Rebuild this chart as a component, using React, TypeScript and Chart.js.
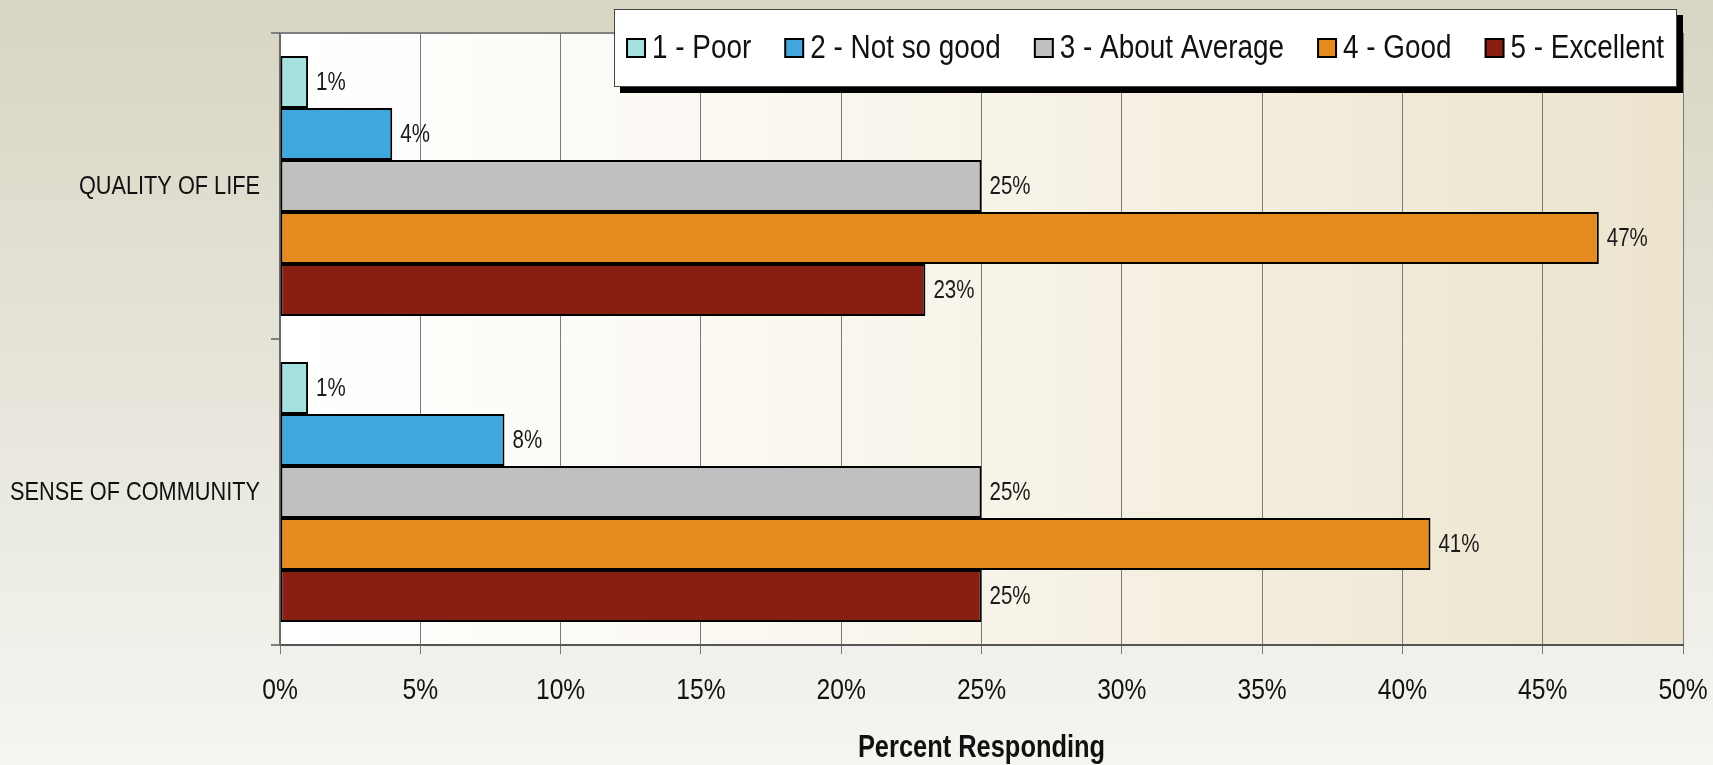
import React, { useEffect, useRef } from "react";
import { Chart, registerables } from "chart.js";

Chart.register(...registerables);

const categories = ["QUALITY OF LIFE", "SENSE OF COMMUNITY"];
const seriesNames = ["1 - Poor", "2 - Not so good", "3 - About Average", "4 - Good", "5 - Excellent"];
const poor = [1, 1];
const notSoGood = [4, 8];
const aboutAverage = [25, 25];
const good = [47, 41];
const excellent = [23, 25];
const seriesColors = ["#a6e1e1", "#3fa7de", "#c0c0c0", "#e48a1f", "#891f12"];
const axisMin = 0;
const axisMax = 50;
const axisStep = 5;
const axisTitle = "Percent Responding";

const FONT = '"Liberation Sans", Arial, sans-serif';
const NARROW = 0.82;

function narrowText(ctx: CanvasRenderingContext2D, text: string, x: number, y: number, align: CanvasTextAlign) {
  ctx.save();
  ctx.translate(x, y);
  ctx.scale(NARROW, 1);
  ctx.textAlign = align;
  ctx.fillText(text, 0, 0);
  ctx.restore();
}

export default function App() {
  const ref = useRef<HTMLCanvasElement | null>(null);

  useEffect(() => {
    const canvas = ref.current;
    if (!canvas) return;
    const seriesValues = [poor, notSoGood, aboutAverage, good, excellent];

    const bgPlugin = {
      id: "bgPlugin",
      beforeDraw(chart: any) {
        const { ctx, width, height, chartArea } = chart;
        ctx.save();
        const g = ctx.createLinearGradient(0, 0, 0, height);
        g.addColorStop(0, "#d8d5c3");
        g.addColorStop(1, "#f5f5f1");
        ctx.fillStyle = g;
        ctx.fillRect(0, 0, width, height);
        const pg = ctx.createLinearGradient(chartArea.left, 0, chartArea.right, 0);
        pg.addColorStop(0, "#ffffff");
        pg.addColorStop(0.35, "#fbf8f1");
        pg.addColorStop(1, "#ece4cd");
        ctx.fillStyle = pg;
        ctx.fillRect(chartArea.left, chartArea.top, chartArea.right - chartArea.left, chartArea.bottom - chartArea.top);
        ctx.restore();
      },
      afterDatasetsDraw(chart: any) {
        const { ctx, chartArea } = chart;
        ctx.save();
        // top border
        ctx.strokeStyle = "#808080";
        ctx.lineWidth = 2;
        ctx.beginPath();
        ctx.moveTo(chartArea.left, chartArea.top);
        ctx.lineTo(chartArea.right, chartArea.top);
        ctx.stroke();
        // data labels
        ctx.fillStyle = "#1a1a1a";
        ctx.font = `25px ${FONT}`;
        ctx.textBaseline = "middle";
        chart.data.datasets.forEach((ds: any, i: number) => {
          const meta = chart.getDatasetMeta(i);
          meta.data.forEach((bar: any, j: number) => {
            narrowText(ctx, `${ds.data[j]}%`, bar.x + 8, bar.y + 1, "left");
          });
        });
        // x tick labels
        const xs = chart.scales.x;
        ctx.font = `30px ${FONT}`;
        ctx.fillStyle = "#111";
        xs.ticks.forEach((t: any) => {
          narrowText(ctx, `${t.value}%`, xs.getPixelForValue(t.value), 691, "center");
        });
        // y category labels
        const ys = chart.scales.y;
        ctx.font = `26.5px ${FONT}`;
        chart.data.labels.forEach((lab: string, i: number) => {
          narrowText(ctx, lab, 260, ys.getPixelForValue(i) + 1, "right");
        });
        // axis title
        ctx.font = `bold 31px ${FONT}`;
        narrowText(ctx, axisTitle, (chartArea.left + chartArea.right) / 2, 748, "center");
        ctx.restore();
      },
      afterDraw(chart: any) {
        const { ctx } = chart;
        const bx = 614, by = 9, bw = 1063, bh = 78;
        ctx.save();
        ctx.fillStyle = "#000";
        ctx.fillRect(bx + 6, by + 6, bw, bh);
        ctx.fillStyle = "#fff";
        ctx.fillRect(bx, by, bw, bh);
        ctx.strokeStyle = "#444";
        ctx.lineWidth = 1;
        ctx.strokeRect(bx + 0.5, by + 0.5, bw - 1, bh - 1);
        ctx.font = `34px ${FONT}`;
        ctx.textBaseline = "middle";
        const box = 18, gapT = 7, gapI = 34;
        const items = chart.data.datasets.map((d: any) => ({
          label: d.label,
          color: d.backgroundColor,
          w: ctx.measureText(d.label).width * NARROW,
        }));
        let total = 0;
        items.forEach((it: any, i: number) => {
          total += box + gapT + it.w + (i > 0 ? gapI : 0);
        });
        let x = bx + (bw - total) / 2;
        const cy = by + bh / 2;
        items.forEach((it: any) => {
          ctx.fillStyle = it.color;
          ctx.fillRect(x, cy - box / 2, box, box);
          ctx.strokeStyle = "#000";
          ctx.lineWidth = 2;
          ctx.strokeRect(x, cy - box / 2, box, box);
          ctx.fillStyle = "#111";
          narrowText(ctx, it.label, x + box + gapT, cy + 1, "left");
          x += box + gapT + it.w + gapI;
        });
        ctx.restore();
      },
    };

    const chart = new Chart(canvas, {
      type: "bar",
      data: {
        labels: categories,
        datasets: seriesNames.map((name, i) => ({
          label: name,
          data: seriesValues[i],
          backgroundColor: seriesColors[i],
          borderColor: "#000",
          borderWidth: 2,
          borderSkipped: false,
          categoryPercentage: 0.85,
          barPercentage: 1.0,
        })),
      },
      options: {
        indexAxis: "y",
        animation: false,
        responsive: true,
        maintainAspectRatio: false,
        layout: { padding: { top: 33, right: 30, left: 0, bottom: 0 } },
        plugins: {
          legend: { display: false },
          tooltip: { enabled: false },
        },
        scales: {
          x: {
            min: axisMin,
            max: axisMax,
            ticks: {
              stepSize: axisStep,
              display: false,
            },
            grid: { color: "#7a7a7a", lineWidth: 1, tickLength: 9, drawTicks: true },
            border: { color: "#555", width: 2 },
            afterFit: (scale: any) => {
              scale.height = 120;
            },
          },
          y: {
            ticks: { display: false },
            grid: { drawOnChartArea: false, drawTicks: true, tickLength: 9, color: "#808080", lineWidth: 2, offset: true },
            border: { color: "#6a6a6a", width: 2 },
            afterFit: (scale: any) => {
              scale.width = 280;
            },
          },
        },
      },
      plugins: [bgPlugin],
    } as any);

    return () => chart.destroy();
  }, []);

  return (
    <div style={{ position: "absolute", left: 0, top: 0, width: 1713, height: 765 }}>
      <canvas ref={ref} />
    </div>
  );
}
